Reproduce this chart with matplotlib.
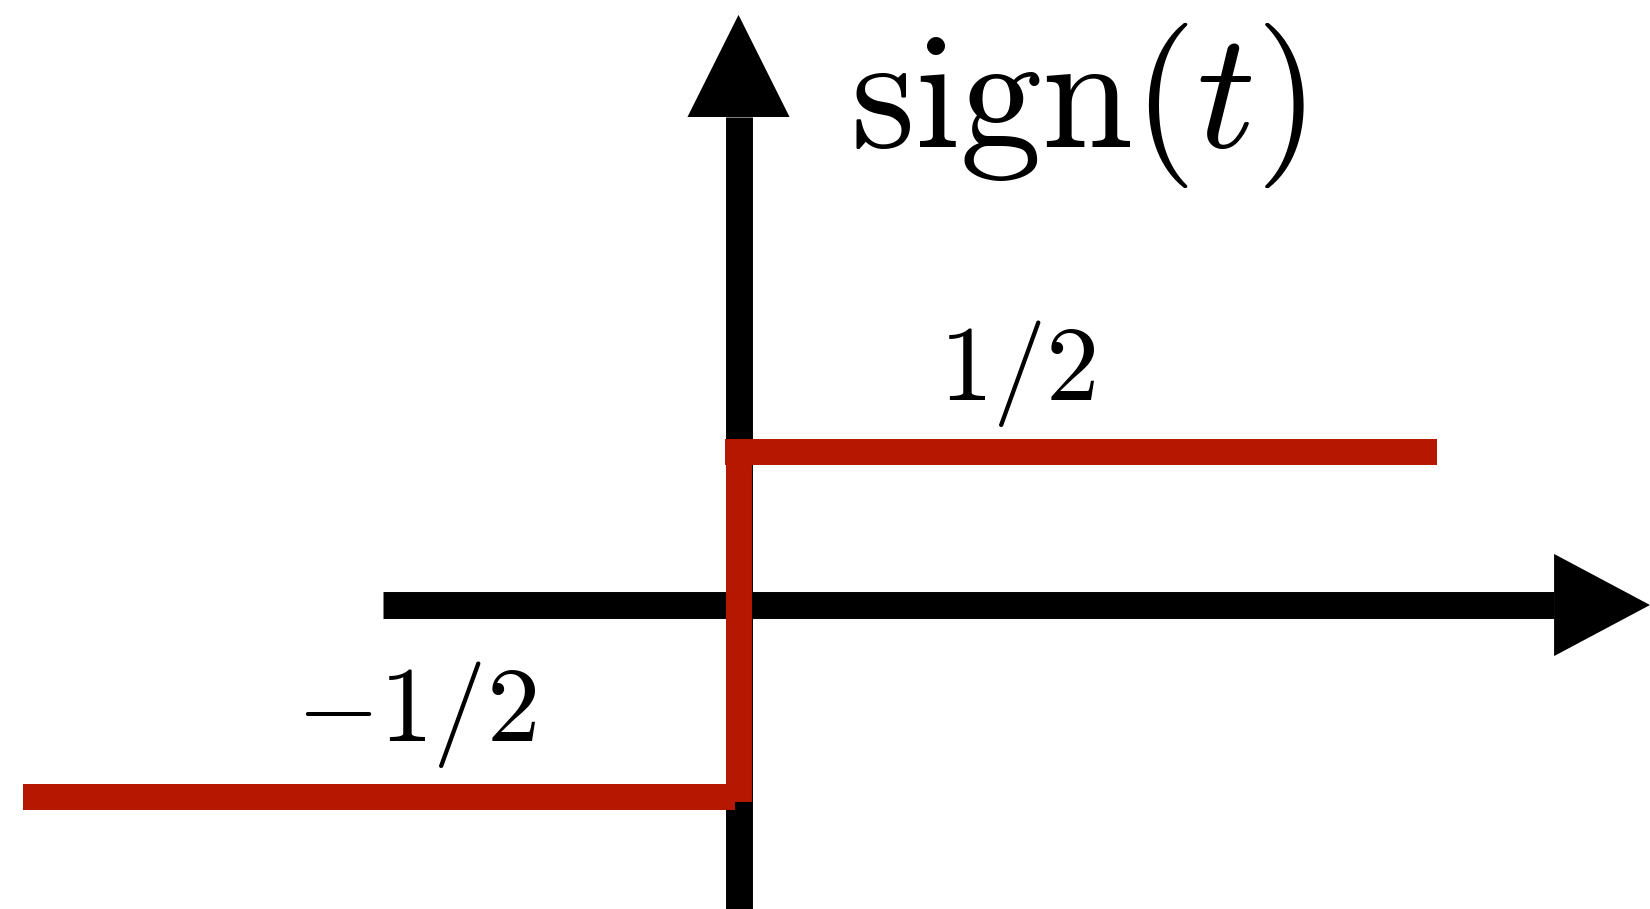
import matplotlib
matplotlib.use("Agg")
import matplotlib.pyplot as plt

plt.rcParams["mathtext.fontset"] = "cm"

# step function sign(t)/2, drawn as three pieces
upper_t = [-0.039, 2.025]
upper_v = [0.5, 0.5]
jump_t = [0.0, 0.0]
jump_v = [0.5, -0.514]
lower_t = [-2.074, -0.010]
lower_v = [-0.5, -0.5]

# labels
title_text = r"$\mathrm{sign}(t)$"
level_labels = [r"$1/2$", r"$-1/2$"]
label_pos = [(0.580, 0.651), (-1.282, -0.338)]

# coordinate axes (arrows)
haxis_v = 0.0565
haxis_t = [-1.031, 2.364]
haxis_tip = 2.642
vaxis_v = [-0.9, 1.471]
vaxis_tip = 1.767
head_half = 0.148

RED = "#b51700"
LW_AX = 19.4
LW_STEP = 18.7

fig = plt.figure(figsize=(16.5, 9.09), dpi=100)
ax = fig.add_axes([0, 0, 1, 1])
ax.set_xlim(-2.1406, 2.642)
ax.set_ylim(-0.8246, 1.8101)
ax.axis("off")

# axes shafts
ax.plot(haxis_t, [haxis_v, haxis_v], color="black", lw=LW_AX, solid_capstyle="butt", zorder=1)
ax.plot([0, 0], vaxis_v, color="black", lw=LW_AX, solid_capstyle="butt", zorder=1)
# arrow heads
ax.fill([haxis_t[1], haxis_t[1], haxis_tip],
        [haxis_v - head_half, haxis_v + head_half, haxis_v],
        color="black", lw=0, zorder=1)
ax.fill([-head_half, head_half, 0],
        [vaxis_v[1], vaxis_v[1], vaxis_tip],
        color="black", lw=0, zorder=1)

# step
for ts, vs in [(upper_t, upper_v), (jump_t, jump_v), (lower_t, lower_v)]:
    ax.plot(ts, vs, color=RED, lw=LW_STEP, solid_capstyle="butt", zorder=2)

ax.text(0.322, 1.384, title_text, fontsize=118, ha="left", va="baseline")
for txt, (x, y) in zip(level_labels, label_pos):
    ax.text(x, y, txt, fontsize=77, ha="left", va="baseline")

fig.savefig("out.png", dpi=100)
